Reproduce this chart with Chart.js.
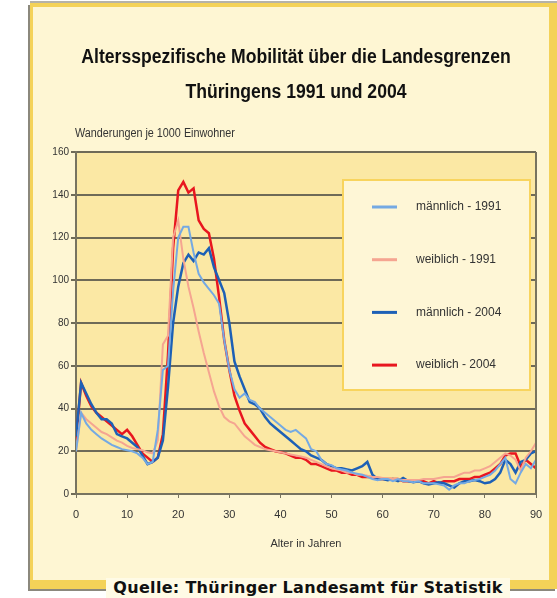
<!DOCTYPE html>
<html>
<head>
<meta charset="utf-8">
<title>Altersspezifische Mobilität</title>
<script src="https://cdn.jsdelivr.net/npm/chart.js"></script>
<style>
  body { margin: 0; background: #ffffff; width: 557px; height: 598px; overflow: hidden; position: relative; }
  #frame {
    position: absolute; left: 30px; top: 3px; width: 516px; height: 573px;
    background: #FEF6D3;
    border-style: solid; border-color: #F4D258; border-width: 4px 8px 9px 3px;
    box-shadow: -2px 2px 0 #8B887D, 0 -2px 0 #B5B2A8;
  }
  #src {
    position: absolute; left: 106px; top: 578px; width: 404px; height: 20px;
    background: #FFFBE6; text-align: center; line-height: 21px;
    font: bold 16px 'DejaVu Sans', sans-serif; letter-spacing: 0.3px; color: #111;
    white-space: nowrap;
  }
  canvas { position: absolute; left: 0; top: 0; }
</style>
</head>
<body>
<div id="frame"></div>
<canvas id="chart" width="557" height="598"></canvas>
<div id="src">Quelle: Thüringer Landesamt für Statistik</div>
<script>
// Alter in Jahren
const ages = [0,1,2,3,4,5,6,7,8,9,10,11,12,13,14,15,16,17,18,19,20,21,22,23,24,25,26,27,28,29,
  30,31,32,33,34,35,36,37,38,39,40,41,42,43,44,45,46,47,48,49,50,51,52,53,54,55,56,57,58,59,
  60,61,62,63,64,65,66,67,68,69,70,71,72,73,74,75,76,77,78,79,80,81,82,83,84,85,86,87,88,89,90];

// Wanderungen je 1000 Einwohner
const maennlich1991 = [20,38,33,30,28,26,24.5,23,22,21,20.5,20,19,17,14,15,30,58,60,95,
  120,125,125,113,103,99,96,93,89,72,58,49,45,47,44,43,40,38,36,34,
  32,30,29,30,28,26,21,20,16,14,13.5,12,11.5,11,10,9.5,9,8,7,6.5,
  7,7,6,7,6,6,5.5,6,5,5,5,4.5,4,2,4,5,5,6,6.5,7,
  8,9,11,14,17,7,5,10,14,12,16];
const weiblich1991 = [20,38,35,33,31,29,28,26.5,25,24,22.5,21.5,21,20.5,19.5,19,25,70,74,120,
  128,110,97,87,76,66,57,48,41,36,34,33,30,27,25,23,22,21,20.5,20,
  19.5,19,18.5,18,17.5,17,16,15,14,13,12,11.5,11,10,10,9,9,8.5,8,8,
  7.5,7,7,7,6.5,6.5,6.5,6.5,7,7,7,7.5,8,8,8,9,10,10,11,11,
  12,13,15,17,19,18,16,11,17,20,24];
const maennlich2004 = [27,52,47,42,38,35,35,33,28,27,26,24,22,18,14,15,17,25,50,80,
  97,108,112,109,113,112,115,106,100,94,80,62,55,49,43,42,40,36,33,31,
  29,27,25,23,21,20,18,17,16,14,13,12,12,11.5,11,12,13,15,9,7,
  7,6.5,7,6,7.5,6,5.5,6,5,4.5,5,5.5,5,4,3,5,6,6,6.5,6,
  5,5.5,7,10,16,14,10,15,16,19,20];
const weiblich2004 = [25,52,46,41,38,36,34,32,30,28,30,27,23,19,17,15,17,28,65,115,
  142,146,141,143,128,124,122,110,92,72,58,46,39,33,30,27,24,22,21,20,
  19.5,19,18,17,17,16,14,14,13,12,11,11,10,10,9,9,8,8,8,7,
  7,7,7,7,6,6,6,6,6,5,6,5,6,6,6,7,7,7,8,8,
  9,10,12,14,18,19,19,13,16,14,12];

const yTicks = [0,20,40,60,80,100,120,140,160];
const xTicks = [0,10,20,30,40,50,60,70,80,90];

const titleLines = ['Altersspezifische Mobilität über die Landesgrenzen', 'Thüringens 1991 und 2004'];
const seriesNames = ['männlich - 1991', 'weiblich - 1991', 'männlich - 2004', 'weiblich - 2004'];
const seriesColors = ['#74A9E3', '#F5A591', '#1D60B6', '#E8161F'];
const seriesWidths = [2, 2, 2.5, 2.5];
const seriesData = [maennlich1991, weiblich1991, maennlich2004, weiblich2004];

const narrow = "'Liberation Sans', Arial, sans-serif";

// schmale Schrift nachgeahmt: horizontal gestaucht zeichnen
function condensedText(ctx, text, x, y, squeeze) {
  ctx.save();
  ctx.translate(x, y);
  ctx.scale(squeeze, 1);
  ctx.fillText(text, 0, 0);
  ctx.restore();
}

const plotBg = {
  id: 'plotBg',
  beforeDraw(chart) {
    const { ctx, chartArea: a } = chart;
    ctx.save();
    ctx.fillStyle = '#FBE8A4';
    ctx.fillRect(a.left, a.top, a.right - a.left, a.bottom - a.top);
    ctx.restore();
  },
  afterDraw(chart) {
    const { ctx, chartArea: a } = chart;
    ctx.save();
    // rechter Rahmen
    ctx.strokeStyle = '#77735F';
    ctx.lineWidth = 2;
    ctx.beginPath();
    ctx.moveTo(a.right, a.top);
    ctx.lineTo(a.right, a.bottom);
    ctx.stroke();
    // Titel
    ctx.fillStyle = '#111';
    ctx.font = 'bold 20px ' + narrow;
    ctx.textBaseline = 'middle';
    ctx.textAlign = 'center';
    titleLines.forEach((t, i) => condensedText(ctx, t, 296, 57 + i * 35, 0.88));
    // Achsentitel oben links
    ctx.fillStyle = '#333';
    ctx.font = '12px ' + narrow;
    ctx.textAlign = 'left';
    condensedText(ctx, 'Wanderungen je 1000 Einwohner', a.left - 1, a.top - 18, 0.9);
    ctx.restore();
  }
};

const boxLegend = {
  id: 'boxLegend',
  afterDatasetsDraw(chart) {
    const { ctx, chartArea: a } = chart;
    const bx = a.left + 267, by = a.top + 28, bw = 187, bh = 210;
    ctx.save();
    ctx.fillStyle = '#FEF6D6';
    ctx.fillRect(bx, by, bw, bh);
    ctx.strokeStyle = '#F8D45E';
    ctx.lineWidth = 2;
    ctx.strokeRect(bx, by, bw, bh);
    ctx.font = '12px ' + narrow;
    ctx.textBaseline = 'middle';
    ctx.textAlign = 'left';
    seriesNames.forEach((name, i) => {
      const y = by + 27 + i * 52.7;
      ctx.strokeStyle = seriesColors[i];
      ctx.lineWidth = 3;
      ctx.beginPath();
      ctx.moveTo(bx + 29, y);
      ctx.lineTo(bx + 54, y);
      ctx.stroke();
      ctx.fillStyle = '#333';
      ctx.fillText(name, bx + 73, y);
    });
    ctx.restore();
  }
};

const ctx = document.getElementById('chart').getContext('2d');
const chart = new Chart(ctx, {
  type: 'line',
  data: {
    datasets: seriesNames.map((name, i) => ({
      label: name,
      data: ages.map((a, j) => ({ x: a, y: seriesData[i][j] })),
      borderColor: seriesColors[i],
      borderWidth: seriesWidths[i],
      pointRadius: 0,
      tension: 0,
      fill: false
    }))
  },
  options: {
    responsive: false,
    animation: false,
    layout: { padding: { top: 152, left: 0, right: 21, bottom: 45 } },
    plugins: {
      legend: { display: false },
      tooltip: { enabled: false },
      title: { display: false }
    },
    scales: {
      x: {
        type: 'linear',
        min: 0, max: 90,
        afterBuildTicks(s) { s.ticks = xTicks.map(v => ({ value: v })); },
        afterFit(s) { s.height = 59; },
        ticks: { color: '#333', font: { family: narrow, size: 11 }, padding: 10, maxRotation: 0 },
        grid: { drawOnChartArea: false, drawTicks: true, tickLength: 4, color: '#77735F', lineWidth: 1 },
        border: { display: true, color: '#77735F', width: 2 },
        title: { display: true, text: 'Alter in Jahren', color: '#333', font: { family: narrow, size: 11 }, padding: { top: 4, bottom: 2 } }
      },
      y: {
        min: 0, max: 160,
        afterBuildTicks(s) { s.ticks = yTicks.map(v => ({ value: v })); },
        afterFit(s) { s.width = 76; },
        ticks: { color: '#333', font: { family: narrow, size: 10 }, padding: 2 },
        grid: { color: '#6E6A57', lineWidth: 2, drawTicks: true, tickLength: 5 },
        border: { display: true, color: '#77735F', width: 2 }
      }
    }
  },
  plugins: [plotBg, boxLegend]
});
</script>
</body>
</html>
